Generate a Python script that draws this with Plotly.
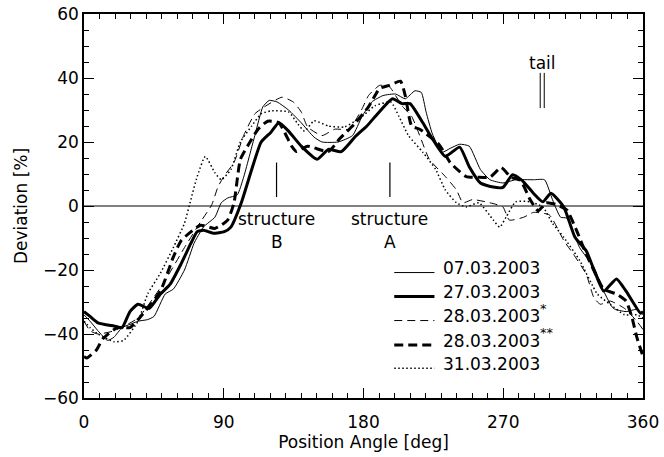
import plotly.graph_objects as go

# ---- data (position angle [deg], deviation [%]) ----
x_0703 = [0, 3.9, 9, 15.2, 19.3, 24.5, 29.6, 34.8, 41, 45.1, 52.3, 57.5, 64.7, 70.8, 72.9, 77, 84.3, 88.4, 92.5, 98.7,
          102.8, 110, 115.2, 119.3, 124.4, 131.7, 139.9, 148.2, 153.3, 163.6, 172.9, 179.1, 185.3, 192.5, 200.7, 206.9,
          213.1, 217.2, 220.3, 224.4, 230.6, 235.8, 241.9, 248.1, 255.3, 261.5, 269.8, 278, 289.4, 296.6, 301.7, 306.9,
          311, 319.2, 328.5, 334.7, 340.9, 349.1, 356, 360]
y_0703 = [-34, -36, -39, -42, -41, -38, -37, -36, -35.5, -34.5, -27.5, -26, -20, -11.7, -9.8, -6.5, -3.5, 1, 2.5, 3.5,
          9, 22, 31, 33, 32.5, 30, 26, 21.5, 20, 20, 22, 28, 32.5, 34.5, 35, 33.5,
          36, 35.5, 29.4, 22.5, 16.8, 18, 19.3, 18.7, 11.4, 8.2, 7.2, 8.2, 8.2, 8.2, 2, -3.5,
          -3.8, -13, -19.3, -26.6, -32, -33, -32.3, -34]

x_2703 = [0, 3.9, 9, 19.3, 24.5, 29.6, 34.8, 42, 49.2, 55.4, 62.6, 68.8, 72.9, 77, 83.2, 90.4, 94.6, 101.3, 108, 114.1,
          120.3, 125.5, 131.7, 139.9, 150.2, 157.4, 165.7, 174.9, 182.2, 189.4, 198.7, 204.8, 210, 218.2, 224.4, 232.7,
          241.9, 248.1, 255.3, 262.6, 269.8, 276, 282.1, 289.4, 295.5, 300.7, 309, 316.2, 323.4, 328.5, 334.7, 342.9,
          349.1, 358.4, 360]
y_2703 = [-33, -34.5, -36.5, -37.5, -38, -33, -30.7, -32, -27.5, -24.5, -18, -11.7, -8, -7.6, -8.5, -8, -6.6, 1, 11.4, 20,
          23, 26, 23.4, 18.7, 14.6, 17.7, 17, 21.8, 25, 29, 33.5, 32, 32, 26, 21, 15.5,
          18.4, 12.3, 7.2, 6, 5.8, 9.8, 8, 4, 1.3, 4, -0.3, -9.8, -14, -20, -26.6, -22.8,
          -26.6, -33.5, -33]

x_2803a = [0, 3.9, 9, 19.3, 34.8, 51.3, 64.7, 75, 82.2, 86.3, 90.4, 96.6, 102.8, 110, 116.2, 127.5, 134.8, 139.9, 144,
           153.3, 161.5, 170.8, 179.1, 183.2, 190.4, 196.6, 204.8, 211, 216.2, 222.4, 232.7, 239.9, 244, 250.2, 261.5,
           269.8, 273.9, 283.2, 289.4, 299.7, 309, 315.1, 323.4, 328.5, 332.6, 338.8, 348.1, 356, 360]
y_2803a = [-36, -39, -40, -39, -35, -24, -13, -5, 0.3, 6, 9.5, 13.6, 22, 28.8, 31, 34, 32.5, 29.4, 24.7,
           22, 24, 24, 30.4, 34.5, 37.7, 37.3, 31.3, 28, 22, 14.6, 9.2, 5, 1, 2, 1,
           -0.3, -4.4, -3.5, -2, -2.8, -10.8, -15, -21.3, -28.8, -30.7, -29.7, -32, -36, -38.6]

x_2803b = [0, 1.8, 8, 12.1, 21.4, 29.6, 34.8, 49.2, 57.5, 62.6, 75, 84.3, 92.5, 96.6, 100.7, 106.9, 112.1, 118.3, 125.5,
           133.7, 136.8, 144, 157.4, 164.6, 174.9, 183.2, 190.4, 196.6, 203.8, 206.9, 211, 216.2, 228.5, 235.8, 246.1,
           253.3, 261.5, 268.7, 274.9, 281.1, 287.3, 292.5, 297.6, 303.8, 311, 317.2, 323.4, 330.6, 334.7, 342.9,
           349.1, 353, 356, 360]
y_2803b = [-47, -47.5, -45, -41.5, -38, -38, -35.5, -26.6, -16, -10.8, -6, -7, -4.4, 1, 14.5, 20, 24, 26.5, 26,
           18.7, 17, 18.7, 17, 21, 26, 31, 36.7, 37.7, 39, 34.5, 25, 24, 19.3, 13.6, 9.2,
           9, 9, 12, 9, 8, 2, -1.5, 1, 0.5, -1.3, -7.6, -15, -22.4, -26, -27.5,
           -29.7, -35, -41, -47]

x_3103 = [0, 3.9, 9, 19.3, 25.5, 34.8, 41, 49.2, 57.5, 64.7, 68.8, 72.9, 78.1, 84.3, 88.4, 94.6, 100.7, 108, 114.1, 120.3,
          131.7, 137.8, 142, 148.2, 157.4, 167.7, 179.1, 187.3, 197.6, 202.8, 209, 218.2, 226.5, 232.7, 239.9, 246.1,
          254.3, 263.6, 267.7, 271.8, 278, 287.3, 295.5, 301.7, 309, 319.2, 330.6, 338.8, 348.1, 356, 360]
y_3103 = [-36, -38, -40, -42.4, -42, -36, -27.5, -21, -13, -5.4, 2, 9.2, 15.5, 10.4, 8.2, 11.4, 20, 25, 28.8, 29.7,
          29.4, 25.6, 23.4, 26.6, 25, 24.7, 28, 31.3, 32.5, 28, 22, 16.8, 11.4, 5, 1, -0.3,
          1, -4.4, -6.6, -3.5, 1.3, 1.3, -0.3, -5.4, -9.8, -17, -27.5, -30.7, -34, -34, -35]

labels = ["07.03.2003", "27.03.2003", "28.03.2003", "28.03.2003", "31.03.2003"]
label_marks = ["", "", "*", "**", ""]
x_ticks = [0, 90, 180, 270, 360]
y_ticks = [-60, -40, -20, 0, 20, 40, 60]

# annotation positions (data coordinates)
struct_B_x, struct_A_x = 124, 197
struct_y = (2.8, 13.6)
tail_x = (293.8, 296.4)
tail_y = (30.6, 41.6)

FONT = "DejaVu Sans"
styles = [
    dict(width=1, dash="solid"),
    dict(width=3, dash="solid"),
    dict(width=1, dash="8px,5px"),
    dict(width=3, dash="9px,5px"),
    dict(width=1.5, dash="1.5px,2.5px"),
]
series = [(x_0703, y_0703), (x_2703, y_2703), (x_2803a, y_2803a), (x_2803b, y_2803b), (x_3103, y_3103)]

fig = go.Figure()
for (xs, ys), st, lab in zip(series, styles, labels):
    fig.add_trace(go.Scatter(x=xs, y=ys, mode="lines", name=lab,
                             line=dict(color="black", width=st["width"], dash=st["dash"],
                                       shape="spline", smoothing=0.5),
                             showlegend=False, hoverinfo="skip"))

# manual legend
leg_x0, leg_x1, leg_tx = 199.8, 225.7, 229.6
leg_y = [-20.8, -28.3, -35.8, -43.4, -50.7]
for ly, st, lab, mk in zip(leg_y, styles, labels, label_marks):
    fig.add_trace(go.Scatter(x=[leg_x0, leg_x1], y=[ly, ly], mode="lines",
                             line=dict(color="black", width=st["width"], dash=st["dash"]),
                             showlegend=False, hoverinfo="skip"))
    fig.add_annotation(x=leg_tx, y=ly + 1.3, text=lab, showarrow=False, xanchor="left", yanchor="middle",
                       font=dict(family=FONT, size=17, color="black"))
    if mk:
        fig.add_annotation(x=leg_tx, y=ly + 1.3, text=mk, showarrow=False, xanchor="left", yanchor="middle",
                           xshift=97, yshift=8, font=dict(family=FONT, size=13, color="black"))

# zero line
fig.add_shape(type="line", x0=0, x1=360, y0=0, y1=0, line=dict(color="black", width=1))

# structure markers
for sx, name in [(struct_B_x, "B"), (struct_A_x, "A")]:
    fig.add_shape(type="line", x0=sx, x1=sx, y0=struct_y[0], y1=struct_y[1], line=dict(color="black", width=1.2))
    fig.add_annotation(x=sx, y=-4.2, text="structure", showarrow=False, yanchor="middle",
                       font=dict(family=FONT, size=17, color="black"))
    fig.add_annotation(x=sx, y=-11.3, text=name, showarrow=False, yanchor="middle",
                       font=dict(family=FONT, size=17, color="black"))

# tail marker
for tx in tail_x:
    fig.add_shape(type="line", x0=tx, x1=tx, y0=tail_y[0], y1=tail_y[1], line=dict(color="black", width=1))
fig.add_annotation(x=sum(tail_x) / 2, y=44.8, text="tail", showarrow=False, yanchor="middle",
                   font=dict(family=FONT, size=17, color="black"))

axis_common = dict(showgrid=False, zeroline=False, showline=True, linecolor="black", linewidth=1.5,
                   mirror="allticks", ticks="inside", ticklen=10, tickcolor="black", tickwidth=1,
                   automargin=False,
                   tickfont=dict(family=FONT, size=17, color="black"))

fig.update_xaxes(range=[0, 360], tickvals=x_ticks, ticktext=[str(v) for v in x_ticks],
                 ticklabelstandoff=8,
                 minor=dict(ticks="inside", ticklen=5, dtick=10, tickcolor="black", tickwidth=1),
                 title=dict(text="Position Angle [deg]", font=dict(family=FONT, size=17, color="black"), standoff=1),
                 **axis_common)
fig.update_yaxes(range=[-60, 60], tickvals=y_ticks, ticktext=[str(v).replace("-", "\u2212") for v in y_ticks],
                 minor=dict(ticks="inside", ticklen=5, dtick=5, tickcolor="black", tickwidth=1),
                 title=dict(text="Deviation [%]", font=dict(family=FONT, size=17, color="black"), standoff=11),
                 **axis_common)

fig.update_layout(width=664, height=457, margin=dict(l=84, r=21, t=14, b=59),
                  paper_bgcolor="white", plot_bgcolor="white", showlegend=False,
                  font=dict(family=FONT, size=17, color="black"))

fig.write_html("out.html", config={"displayModeBar": False},
               post_script="document.body.style.margin='0';")
